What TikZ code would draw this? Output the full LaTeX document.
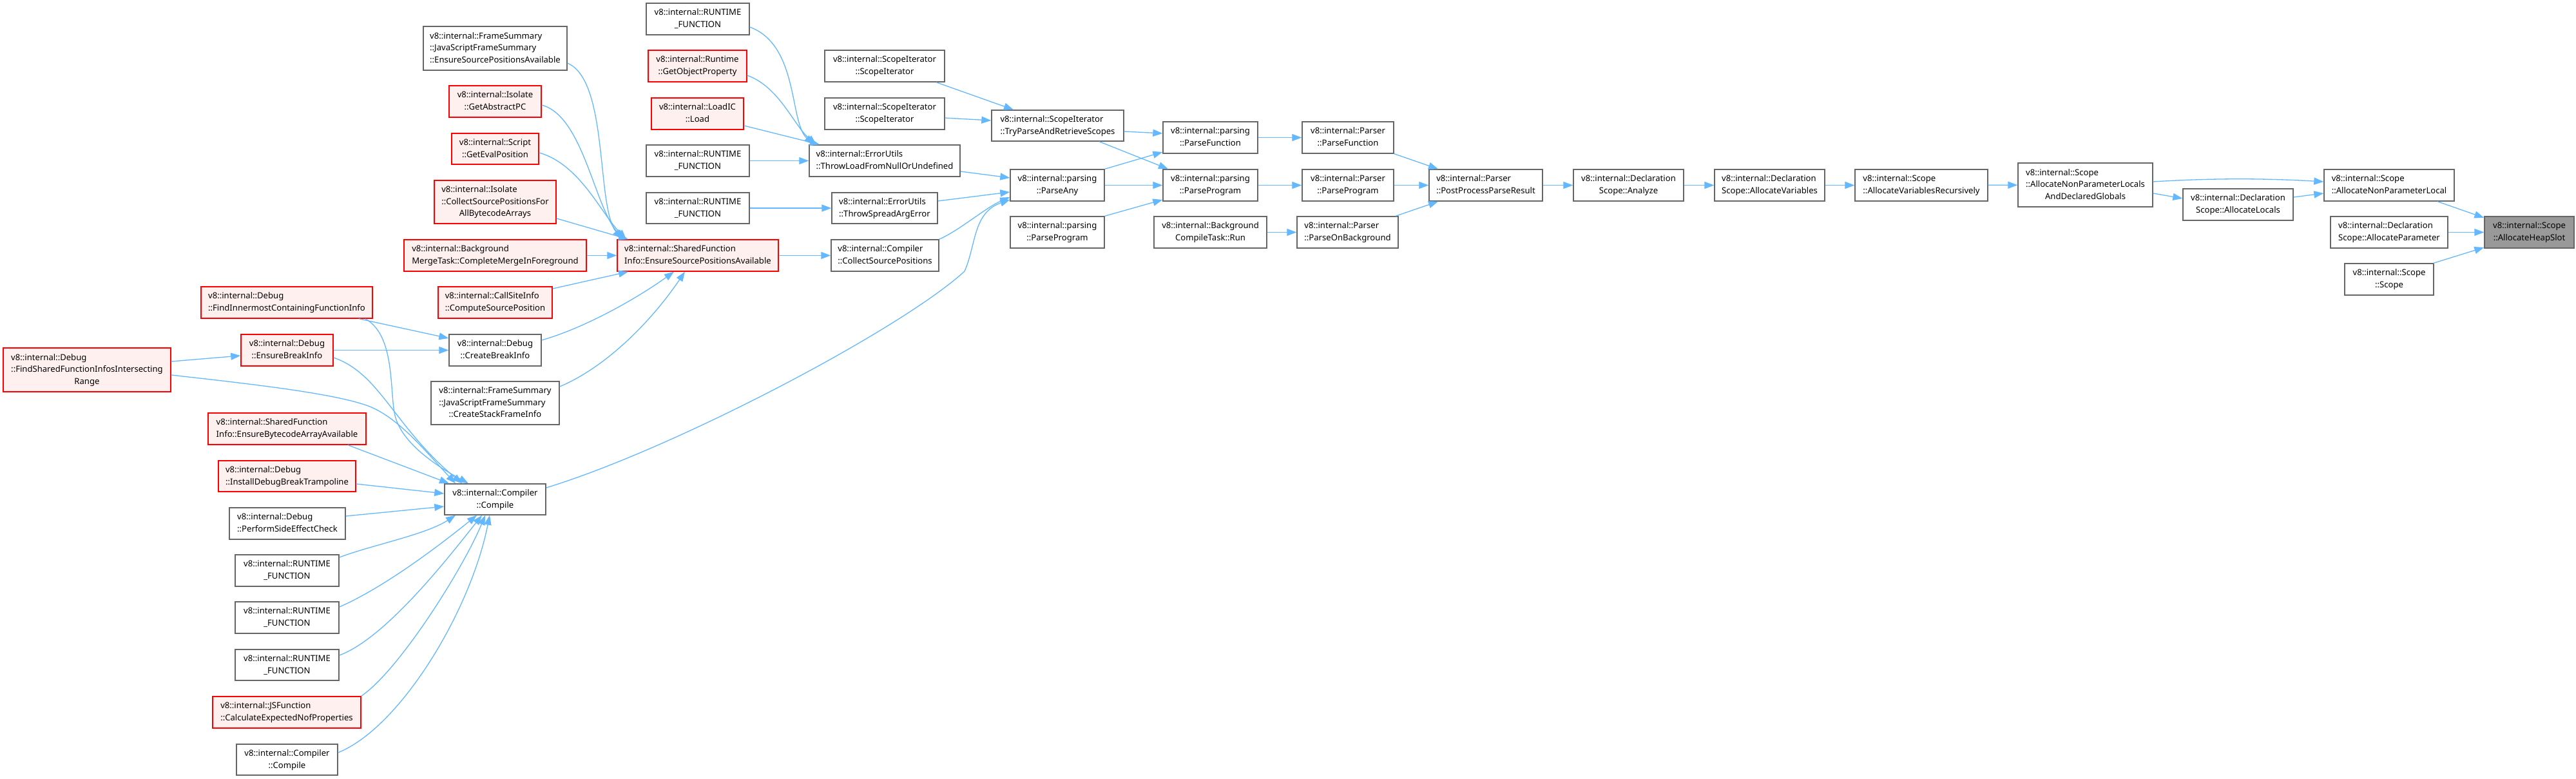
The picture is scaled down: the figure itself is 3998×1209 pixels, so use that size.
\documentclass[tikz,border=0pt]{standalone}
\usepackage{fontspec}
\setmainfont{Noto Sans}
\usetikzlibrary{arrows.meta}
\definecolor{edgec}{RGB}{99,184,255}
\definecolor{redb}{RGB}{255,0,0}
\definecolor{redf}{HTML}{FFF0F0}
\definecolor{grayb}{HTML}{666666}
\definecolor{rootf}{HTML}{999999}
\newcommand{\twol}[2]{\begin{tabular}{@{}l@{}}#1\\\multicolumn{1}{@{}c@{}}{#2}\end{tabular}}
\newcommand{\threel}[3]{\begin{tabular}{@{}l@{}}#1\\#2\\\multicolumn{1}{@{}c@{}}{#3}\end{tabular}}
\newcommand{\mybox}[7]{\node[#1, minimum width={(#4-#3)*1pt}, minimum height={(#6-#5)*1pt}] (#2) at ({(#3+#4)/2},{(#5+#6)/2}) {#7};}
\newcommand{\rtf}{\twol{v8::internal::RUNTIME}{\_FUNCTION}}
\tikzset{
  nbase/.style={draw, line width=1.4pt, inner sep=2pt, font=\fontsize{13.1}{18.7}\selectfont, text=black},
  wbox/.style={nbase, draw=grayb, fill=white},
  rbox/.style={nbase, draw=redb, fill=redf},
  gbox/.style={nbase, draw=grayb, fill=rootf},
  cedge/.style={draw=edgec, line width=1.3pt, -{Triangle[length=15pt,width=11pt]}}
}
\begin{document}
\begin{tikzpicture}[x=1pt,y=-1pt]
\path[fill=white] (0,0) rectangle (3998,1209);
% nodes
\mybox{gbox}{heap}{3856}{3995}{336}{385}{\twol{v8::internal::Scope}{::AllocateHeapSlot}}
\mybox{wbox}{anpl}{3607}{3809}{263}{312}{\twol{v8::internal::Scope}{::AllocateNonParameterLocal}}
\mybox{wbox}{aparam}{3617}{3799}{336}{385}{\twol{v8::internal::Declaration}{Scope::AllocateParameter}}
\mybox{wbox}{scope}{3639}{3777}{409}{458}{\twol{v8::internal::Scope}{::Scope}}
\mybox{wbox}{anplg}{3132}{3341}{253}{321}{\threel{v8::internal::Scope}{::AllocateNonParameterLocals}{AndDeclaredGlobals}}
\mybox{wbox}{alocals}{3388}{3559}{293}{342}{\twol{v8::internal::Declaration}{Scope::AllocateLocals}}
\mybox{wbox}{avr}{2879}{3085}{263}{312}{\twol{v8::internal::Scope}{::AllocateVariablesRecursively}}
\mybox{wbox}{avars}{2661}{2832}{263}{312}{\twol{v8::internal::Declaration}{Scope::AllocateVariables}}
\mybox{wbox}{analyze}{2442}{2613}{263}{312}{\twol{v8::internal::Declaration}{Scope::Analyze}}
\mybox{wbox}{ppr}{2218}{2394}{263}{312}{\twol{v8::internal::Parser}{::PostProcessParseResult}}
\mybox{wbox}{pfun}{2021}{2163}{189}{238}{\twol{v8::internal::Parser}{::ParseFunction}}
\mybox{wbox}{pprog}{2021}{2163}{263}{312}{\twol{v8::internal::Parser}{::ParseProgram}}
\mybox{wbox}{pbg}{2013}{2170}{336}{385}{\twol{v8::internal::Parser}{::ParseOnBackground}}
\mybox{wbox}{gpfun}{1805}{1952}{189}{238}{\twol{v8::internal::parsing}{::ParseFunction}}
\mybox{wbox}{gpprog}{1805}{1952}{263}{312}{\twol{v8::internal::parsing}{::ParseProgram}}
\mybox{wbox}{bgrun}{1791}{1966}{336}{385}{\twol{v8::internal::Background}{CompileTask::Run}}
\mybox{wbox}{tryp}{1539}{1744}{171}{219}{\twol{v8::internal::ScopeIterator}{::TryParseAndRetrieveScopes}}
\mybox{wbox}{pany}{1568}{1714}{263}{312}{\twol{v8::internal::parsing}{::ParseAny}}
\mybox{wbox}{gpprog2}{1568}{1714}{336}{385}{\twol{v8::internal::parsing}{::ParseProgram}}
\mybox{wbox}{si1}{1280}{1466}{78}{127}{\twol{v8::internal::ScopeIterator}{::ScopeIterator}}
\mybox{wbox}{si2}{1280}{1466}{152}{201}{\twol{v8::internal::ScopeIterator}{::ScopeIterator}}
\mybox{wbox}{tlnu}{1256}{1490}{225}{274}{\twol{v8::internal::ErrorUtils}{::ThrowLoadFromNullOrUndefined}}
\mybox{wbox}{tsae}{1291}{1455}{299}{347}{\twol{v8::internal::ErrorUtils}{::ThrowSpreadArgError}}
\mybox{wbox}{csp}{1290}{1457}{372}{421}{\twol{v8::internal::Compiler}{::CollectSourcePositions}}
\mybox{wbox}{rf1}{1003}{1163}{5}{54}{\rtf}
\mybox{rbox}{gop}{1006}{1159}{78}{127}{\twol{v8::internal::Runtime}{::GetObjectProperty}}
\mybox{rbox}{load}{1011}{1154}{152}{201}{\twol{v8::internal::LoadIC}{::Load}}
\mybox{wbox}{rf2}{1003}{1163}{225}{274}{\rtf}
\mybox{wbox}{rf3}{1003}{1163}{299}{347}{\rtf}
\mybox{rbox}{sfie}{958}{1208}{372}{421}{\twol{v8::internal::SharedFunction}{Info::EnsureSourcePositionsAvailable}}
\mybox{wbox}{fsesp}{657}{880}{41}{109}{\threel{v8::internal::FrameSummary}{::JavaScriptFrameSummary}{::EnsureSourcePositionsAvailable}}
\mybox{rbox}{gapc}{697}{840}{133}{182}{\twol{v8::internal::Isolate}{::GetAbstractPC}}
\mybox{rbox}{gep}{701}{836}{207}{255}{\twol{v8::internal::Script}{::GetEvalPosition}}
\mybox{rbox}{cspa}{674}{863}{280}{347}{\threel{v8::internal::Isolate}{::CollectSourcePositionsFor}{AllBytecodeArrays}}
\mybox{rbox}{bmt}{627}{910}{372}{421}{\twol{v8::internal::Background}{MergeTask::CompleteMergeInForeground}}
\mybox{rbox}{csi}{680}{857}{445}{494}{\twol{v8::internal::CallSiteInfo}{::ComputeSourcePosition}}
\mybox{wbox}{cbi}{697}{840}{519}{568}{\twol{v8::internal::Debug}{::CreateBreakInfo}}
\mybox{wbox}{cfsi}{669}{868}{592}{659}{\threel{v8::internal::FrameSummary}{::JavaScriptFrameSummary}{::CreateStackFrameInfo}}
\mybox{rbox}{fic}{312}{578}{445}{494}{\twol{v8::internal::Debug}{::FindInnermostContainingFunctionInfo}}
\mybox{rbox}{ebi}{374}{517}{519}{568}{\twol{v8::internal::Debug}{::EnsureBreakInfo}}
\mybox{rbox}{fsfi}{5}{265}{540}{608}{\threel{v8::internal::Debug}{::FindSharedFunctionInfosIntersecting}{Range}}
\mybox{rbox}{ebaa}{323}{568}{641}{690}{\twol{v8::internal::SharedFunction}{Info::EnsureBytecodeArrayAvailable}}
\mybox{rbox}{idbt}{339}{552}{715}{763}{\twol{v8::internal::Debug}{::InstallDebugBreakTrampoline}}
\mybox{wbox}{psec}{356}{536}{788}{837}{\twol{v8::internal::Debug}{::PerformSideEffectCheck}}
\mybox{wbox}{rf4}{365}{526}{861}{910}{\rtf}
\mybox{wbox}{rf5}{365}{526}{934}{983}{\rtf}
\mybox{wbox}{rf6}{365}{526}{1008}{1056}{\rtf}
\mybox{rbox}{cenp}{330}{560}{1081}{1130}{\twol{v8::internal::JSFunction}{::CalculateExpectedNofProperties}}
\mybox{wbox}{cc2}{367}{524}{1155}{1203}{\twol{v8::internal::Compiler}{::Compile}}
\mybox{wbox}{cc}{690}{847}{751}{799}{\twol{v8::internal::Compiler}{::Compile}}
% edges, right part
\draw[cedge] (anpl.south -| 3783,0) -- (heap.west |- 0,338);
\draw[cedge] (aparam) -- (heap);
\draw[cedge] (scope.north -| 3777,0) -- (heap.west |- 0,384);
\draw[cedge] (anplg.east |- 0,282) .. controls (3440,276) and (3520,277) .. (anpl.west |- 0,282);
\draw[cedge] (anplg.east |- 0,300) -- (alocals.west |- 0,308);
\draw[cedge] (alocals.east |- 0,306) -- (anpl.west |- 0,300);
\draw[cedge] (avr) -- (anplg);
\draw[cedge] (avars) -- (avr);
\draw[cedge] (analyze) -- (avars);
\draw[cedge] (ppr) -- (analyze);
\draw[cedge] (pfun.south east) -- (ppr.north -| 2232,0);
\draw[cedge] (pprog) -- (ppr);
\draw[cedge] (pbg.north -| 2166,0) -- (ppr.south -| 2232,0);
\draw[cedge] (gpfun) -- (pfun);
\draw[cedge] (gpprog) -- (pprog);
\draw[cedge] (bgrun) -- (pbg);
\draw[cedge] (tryp.east |- 0,204) -- (gpfun.west |- 0,207);
\draw[cedge] (tryp.south -| 1706,0) -- (gpprog.north -| 1813,0);
\draw[cedge] (pany.north east) -- (gpfun.west |- 0,236);
\draw[cedge] (pany) -- (gpprog);
\draw[cedge] (gpprog2.north east) -- (gpprog.west |- 0,310);
\draw[cedge] (si1.south -| 1453,0) -- (tryp.north -| 1573,0);
\draw[cedge] (si2.east |- 0,183) -- (tryp.west |- 0,187);
\draw[cedge] (tlnu.east |- 0,266) -- (pany.west |- 0,276);
\draw[cedge] (tsae.east |- 0,312) -- (pany.west |- 0,298);
\draw[cedge] (csp.north east) .. controls (1490,357) and (1530,322) .. (pany.west |- 0,306);
\draw[cedge] (cc.east |- 0,757) .. controls (1050,695) and (1400,510) .. (1497,421) .. controls (1515,380) and (1510,330) .. (pany.west |- 0,310);
\draw[cedge] (rf1.east |- 0,42) .. controls (1240,70) and (1225,190) .. (tlnu.north -| 1263,0);
\draw[cedge] (gop.east |- 0,117) .. controls (1210,135) and (1232,195) .. (tlnu.north -| 1267,0);
\draw[cedge] (load.east |- 0,195) -- (tlnu.north -| 1272,0);
\draw[cedge] (rf2) -- (tlnu);
\draw[cedge] (rf3) -- (tsae);
\draw[cedge] (sfie) -- (csp);
% edges into SharedFunctionInfo::EnsureSourcePositionsAvailable
\draw[cedge] (fsesp.east |- 0,98) .. controls (945,125) and (925,320) .. (sfie.north -| 965,0);
\draw[cedge] (gapc.east |- 0,163) .. controls (905,180) and (922,320) .. (sfie.north -| 968,0);
\draw[cedge] (gep.east |- 0,237) .. controls (900,255) and (932,330) .. (sfie.north -| 972,0);
\draw[cedge] (cspa.east |- 0,339) -- (sfie.north -| 975,0);
\draw[cedge] (bmt) -- (sfie);
\draw[cedge] (csi.east |- 0,448) -- (sfie.south -| 975,0);
\draw[cedge] (cbi.east |- 0,528) .. controls (910,508) and (990,462) .. (sfie.south -| 1046,0);
\draw[cedge] (cfsi.east |- 0,600) .. controls (940,570) and (1010,500) .. (sfie.south -| 1063,0);
% debug cluster
\draw[cedge] (fic.south -| 557,0) -- (cbi.west |- 0,525);
\draw[cedge] (ebi) -- (cbi);
\draw[cedge] (fsfi.east |- 0,561) -- (ebi.west |- 0,552);
% edges into Compiler::Compile
\draw[cedge] (fic.south -| 567,0) .. controls (612,520) and (605,600) .. (612,640) .. controls (620,690) and (690,730) .. (cc.north -| 727,0);
\draw[cedge] (ebi.east |- 0,555) .. controls (590,580) and (610,660) .. (cc.north -| 717,0);
\draw[cedge] (fsfi.east |- 0,582) .. controls (380,595) and (520,610) .. (574,631) .. controls (620,650) and (660,700) .. (cc.north -| 707,0);
\draw[cedge] (ebaa.south -| 540,0) -- (cc.north -| 697,0);
\draw[cedge] (idbt.east |- 0,751) -- (cc.west |- 0,766);
\draw[cedge] (psec.east |- 0,801) -- (cc.west |- 0,786);
\draw[cedge] (rf4.east |- 0,865) .. controls (580,845) and (660,830) .. (cc.south -| 707,0);
\draw[cedge] (rf5.east |- 0,942) .. controls (600,910) and (690,840) .. (cc.south -| 740,0);
\draw[cedge] (rf6.east |- 0,1017) .. controls (600,990) and (700,860) .. (cc.south -| 748,0);
\draw[cedge] (cenp.north east) .. controls (620,1040) and (720,880) .. (cc.south -| 753,0);
\draw[cedge] (cc2.east |- 0,1168) .. controls (620,1130) and (730,950) .. (cc.south -| 760,0);
\end{tikzpicture}
\end{document}
